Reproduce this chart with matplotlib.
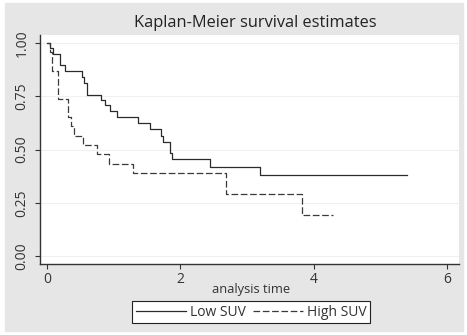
import matplotlib
matplotlib.use("Agg")
import matplotlib.pyplot as plt
from matplotlib.patches import Rectangle

# Kaplan-Meier step data
low_t = [0, 0.045, 0.09, 0.195, 0.27, 0.52, 0.56, 0.605, 0.805, 0.87, 0.945,
         1.045, 1.37, 1.545, 1.71, 1.735, 1.845, 1.88, 2.445, 3.2]
low_s = [1.0, 0.975, 0.948, 0.897, 0.869, 0.839, 0.811, 0.756, 0.735, 0.71, 0.68,
         0.652, 0.625, 0.595, 0.564, 0.537, 0.486, 0.456, 0.42, 0.381]
low_end = 5.4

high_t = [0, 0.05, 0.08, 0.17, 0.32, 0.36, 0.405, 0.545, 0.745, 0.93, 1.285, 2.69, 3.83]
high_s = [1.0, 0.957, 0.87, 0.739, 0.652, 0.609, 0.565, 0.522, 0.478, 0.435, 0.391,
          0.293, 0.196]
high_end = 4.29

x_ticks = [0, 2, 4, 6]
y_ticks = [0.0, 0.25, 0.5, 0.75, 1.0]
y_labels = ["0.00", "0.25", "0.50", "0.75", "1.00"]

plt.rcParams['font.family'] = ['Open Sans', 'DejaVu Sans']
plt.rcParams['lines.scale_dashes'] = False

W, H = 467, 335
fig = plt.figure(figsize=(W / 100, H / 100), dpi=100)
fig.patch.set_facecolor('white')

# grey outer region, behind the axes
fig.patches.append(Rectangle((5 / W, 1 - 331 / H), (463 - 5) / W, (331 - 3) / H,
                             transform=fig.transFigure, color='#e6e6e6', zorder=-5))

ax = fig.add_axes([40 / W, 1 - 264 / H, (459 - 40) / W, (264 - 35) / H])
ax.set_facecolor('white')

ax.step(low_t + [low_end], low_s + [low_s[-1]], where='post',
        color='#2b2b2b', lw=0.9, label='Low SUV')
ax.step(high_t + [high_end], high_s + [high_s[-1]], where='post',
        color='#3a3a3a', lw=0.9, dashes=[4.8, 1.9], label='High SUV')

ax.set_xlim(-0.105, 6.18)
ax.set_ylim(-0.036, 1.0375)
ax.set_xticks(x_ticks)
ax.set_yticks(y_ticks)
ax.set_yticklabels(y_labels, rotation=90, va='center')

ax.grid(axis='y', color='#f0f0f0', lw=0.8)
ax.set_axisbelow(True)
for s in ['top', 'right']:
    ax.spines[s].set_visible(False)
for s in ['left', 'bottom']:
    ax.spines[s].set_color('#333333')
    ax.spines[s].set_linewidth(1.0)
ax.tick_params(direction='out', length=3.6, width=0.8, color='#333333',
               labelsize=10, labelcolor='#333333')
ax.tick_params(axis='x', pad=2.5)
ax.tick_params(axis='y', pad=4)

fig.text(255 / W, 1 - 27 / H, 'Kaplan-Meier survival estimates',
         ha='center', va='baseline', fontsize=11.8, color='#222222')
fig.text(251.5 / W, 1 - 292.5 / H, 'analysis time',
         ha='center', va='baseline', fontsize=9.3, color='#333333')

leg = fig.legend(loc='center', bbox_to_anchor=(251 / W, 1 - 312 / H), ncol=2,
                 fontsize=10, handlelength=3.6, handletextpad=0.3,
                 columnspacing=0.5, borderpad=0.25, fancybox=False,
                 framealpha=1, edgecolor='#222222')
leg.get_frame().set_linewidth(0.8)
for t in leg.get_texts():
    t.set_color('#333333')

fig.savefig('out.png', dpi=100)
